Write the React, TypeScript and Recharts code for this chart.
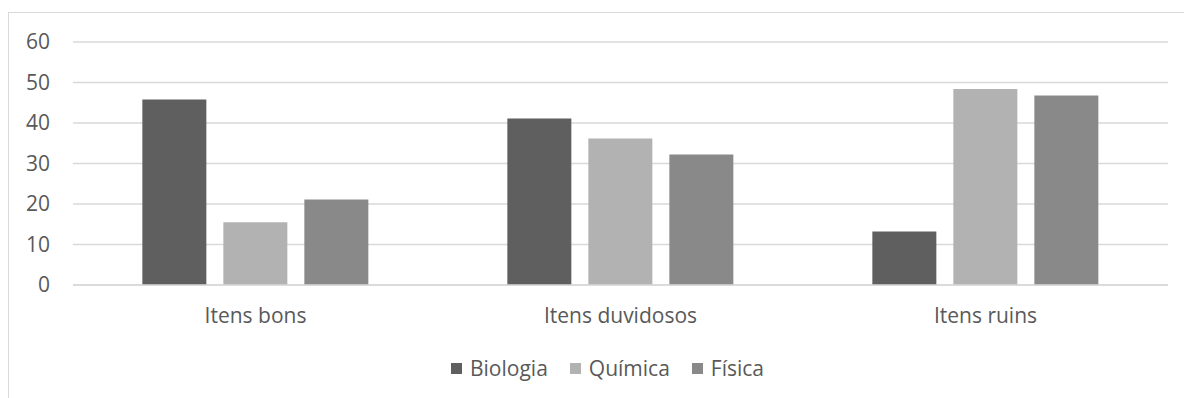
import { Bar, BarChart, CartesianGrid, Legend, XAxis, YAxis } from 'recharts';

const categories = ['Itens bons', 'Itens duvidosos', 'Itens ruins'];
const biologia = [45.8, 41.1, 13.2];
const quimica = [15.5, 36.2, 48.4];
const fisica = [21.1, 32.2, 46.8];
const yTicks = [0, 10, 20, 30, 40, 50, 60];

const series = [
  { key: 'biologia', name: 'Biologia', color: '#5f5f5f' },
  { key: 'quimica', name: 'Química', color: '#b2b2b2' },
  { key: 'fisica', name: 'Física', color: '#898989' },
];

const chartData = categories.map((name, i) => ({
  name,
  biologia: biologia[i],
  quimica: quimica[i],
  fisica: fisica[i],
}));

const font = '"Open Sans", sans-serif';
const textColor = '#595959';

const LegendContent = () => (
  <div style={{ display: 'flex', justifyContent: 'center', paddingLeft: 60, fontFamily: font, fontSize: 21, color: textColor }}>
    {series.map((s) => (
      <div key={s.key} style={{ display: 'flex', alignItems: 'center', marginRight: 22 }}>
        <span style={{ width: 11, height: 11, background: s.color, display: 'inline-block', marginRight: 8 }} />
        <span>{s.name}</span>
      </div>
    ))}
  </div>
);

const App = () => {
  return (
    <div
      style={{
        position: 'absolute',
        left: 8,
        top: 12,
        width: 1190,
        height: 400,
        border: '1px solid #d9d9d9',
        borderRight: 'none',
        background: '#fff',
      }}
    >
      <BarChart
        width={1175}
        height={385}
        data={chartData}
        margin={{ top: 29, right: 16, bottom: 0, left: 0 }}
        barCategoryGap="19%"
        barGap={17}
      >
        <CartesianGrid vertical={false} stroke="#d9d9d9" strokeWidth={1.5} />
        <XAxis
          dataKey="name"
          axisLine={{ stroke: '#d9d9d9', strokeWidth: 1.5 }}
          tickLine={false}
          tickSize={0}
          tickMargin={23}
          height={85}
          tick={{ fill: textColor, fontSize: 21, fontFamily: font }}
        />
        <YAxis
          domain={[0, 60]}
          ticks={yTicks}
          axisLine={false}
          tickLine={false}
          tickSize={0}
          tickMargin={23}
          width={64}
          tick={{ fill: textColor, fontSize: 21, fontFamily: font }}
        />
        <Legend verticalAlign="bottom" wrapperStyle={{ bottom: 16 }} content={<LegendContent />} />
        {series.map((s) => (
          <Bar key={s.key} dataKey={s.key} name={s.name} fill={s.color} isAnimationActive={false} />
        ))}
      </BarChart>
    </div>
  );
};

export default App;
